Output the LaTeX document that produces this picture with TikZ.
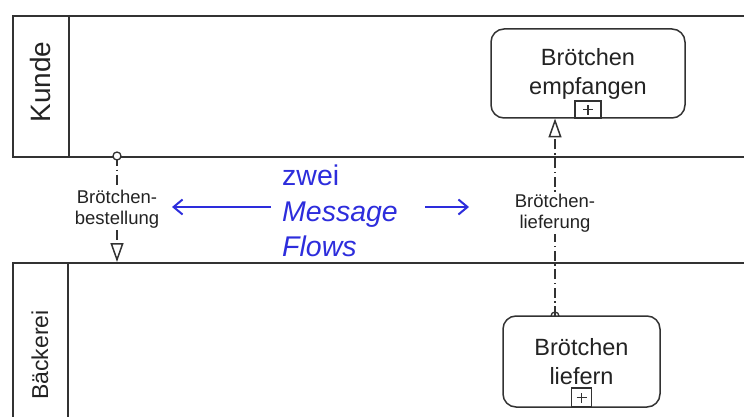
\documentclass[tikz,border=0pt]{standalone}
\usepackage{fontspec}
\setmainfont{Liberation Sans}
\usetikzlibrary{arrows.meta}

\definecolor{linegray}{RGB}{50,50,50}
\definecolor{textgray}{RGB}{35,35,35}
\definecolor{flowblue}{RGB}{45,45,220}

\tikzset{
  pool/.style={draw=linegray, line width=1.7pt, fill=none, inner sep=0pt},
  poollabel/.style={rotate=90, text=textgray, inner sep=0pt},
  task/.style={draw=linegray, line width=1.5pt, fill=white, rounded corners=13pt,
    align=center, text=textgray, inner sep=0pt,
    font=\fontsize{23.5}{29}\selectfont},
  collapsed/.style={draw=linegray, line width=1.3pt, fill=white, inner sep=0pt,
    path picture={
      \draw[linegray, line width=1.2pt]
        ([xshift=-5pt]path picture bounding box.center) --
        ([xshift=5pt]path picture bounding box.center)
        ([yshift=-5pt]path picture bounding box.center) --
        ([yshift=5pt]path picture bounding box.center);}},
  msgflow/.style={draw=linegray, line width=1.5pt,
    dash pattern=on 10pt off 3.5pt on 1.5pt off 3.5pt,
    -{Triangle[open, length=19pt, width=13pt, line width=1.5pt]}},
  msgstart/.style={draw=linegray, line width=1.3pt, fill=white},
  flowlabel/.style={fill=white, align=center, text=textgray, inner sep=2pt,
    font=\fontsize{18.5}{21}\selectfont},
  note/.style={text=flowblue, align=left, inner sep=0pt,
    font=\fontsize{28.5}{35.5}\selectfont},
  bluearrow/.style={draw=flowblue, line width=2pt,
    -{Straight Barb[length=9pt, width=15pt, line width=2pt]}}
}

\begin{document}
\begin{tikzpicture}[x=1pt, y=-1pt]
\useasboundingbox (0,0) rectangle (744,417);

% Pools (open towards the right and the bottom edge)
\node[pool, anchor=north west, minimum width=748pt, minimum height=141pt] (kunde) at (12,15) {};
\draw[pool] ([xshift=57pt]kunde.north west) -- ([xshift=57pt]kunde.south west);
\node[poollabel, font=\fontsize{28}{30}\selectfont] (kundelabel) at (40.5,82) {Kunde};

\node[pool, anchor=north west, minimum width=748pt, minimum height=175pt] (baeckerei) at (12,262) {};
\draw[pool] ([xshift=56pt]baeckerei.north west) -- ([xshift=56pt]baeckerei.south west);
\node[poollabel, font=\fontsize{23}{25}\selectfont] (baeckereilabel) at (40,355) {Bäckerei};

% Ends of the order flow on the pool borders
\coordinate (bestSrc) at (117,156);
\coordinate (bestTgt) at (117,262);

% Order flow Kunde -> Bäckerei
\draw[msgflow] (bestSrc) -- node[flowlabel] (bestlabel) {Brötchen-\\bestellung} (bestTgt);
\draw[msgstart] (bestSrc) circle (4pt);

% Delivery flow Bäckerei -> Kunde
\coordinate (lieferSrc) at (555,316);
\coordinate (lieferTgt) at (555,118.5);
\draw[msgstart] (lieferSrc) circle (4pt);
\draw[msgflow] (lieferSrc) -- node[flowlabel, pos=0.52] (lieferlabel) {Brötchen-\\lieferung} (lieferTgt);

% Collapsed sub-processes
\node[task, minimum width=194pt, minimum height=89pt] (empfangen) at (588,73.5) {Brötchen\\empfangen};
\node[collapsed, anchor=south, minimum width=26pt, minimum height=17pt] (empfangenplus) at (empfangen.south) {};

\node[task, minimum width=157pt, minimum height=91pt] (liefern) at (581.5,361.5) {Brötchen\\liefern};
\node[collapsed, anchor=south, minimum width=20pt, minimum height=19pt] (liefernplus) at (liefern.south) {};

% Annotation with its two pointers
\node[note, anchor=north west] (note) at (282,165) {zwei\\\textit{Message}\\\textit{Flows}};
\coordinate (leftTail) at (271,207);
\coordinate (leftTip) at (172,207);
\coordinate (rightTail) at (425,207);
\coordinate (rightTip) at (469,207);
\draw[bluearrow] (leftTail) -- (leftTip);
\draw[bluearrow] (rightTail) -- (rightTip);
\end{tikzpicture}
\end{document}
